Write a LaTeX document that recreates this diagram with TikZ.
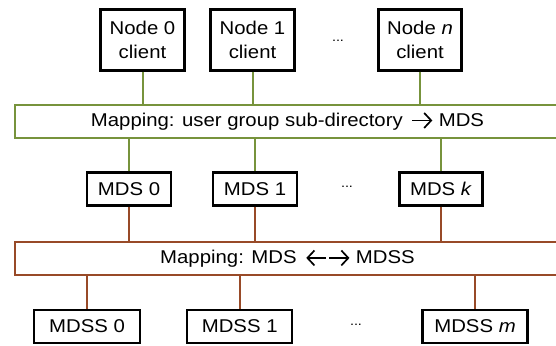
\documentclass[tikz,border=0pt]{standalone}
\usepackage{fontspec}
\setmainfont[FakeStretch=1.1]{Liberation Sans}
\usetikzlibrary{arrows.meta}
\definecolor{mapgreen}{RGB}{119,147,60}
\definecolor{mapbrown}{RGB}{152,74,40}
% open-headed text arrows
\tikzset{textarrow/.style={line width=1.7pt,line cap=butt}}
\newcommand{\rarr}{\tikz[baseline=-5.6pt]\draw[textarrow,-{Straight Barb[length=7pt,width=15pt,line width=1.7pt]}] (0pt,0pt) -- (20pt,0pt);}
\newcommand{\larr}{\tikz[baseline=-5.6pt]\draw[textarrow,{Straight Barb[length=7pt,width=15pt,line width=1.7pt]}-] (0pt,0pt) -- (20pt,0pt);}
\begin{document}
\begin{tikzpicture}[x=1pt,y=-1pt,
  box/.style={draw=black,line width=2.2pt,fill=white,inner sep=0pt,align=center,
    font=\fontsize{18.5}{24.5}\selectfont},
  bar/.style={draw=#1,line width=2pt,fill=white,inner sep=0pt,minimum height=33pt,
    minimum width=545pt,font=\fontsize{18.5}{22}\selectfont},
  link/.style={draw=#1,line width=2pt},
  gap/.style={inner sep=0pt,font=\fontsize{13}{13}\selectfont}]
\useasboundingbox (0,0) rectangle (556,345);
\clip (0,0) rectangle (556,345);

% client nodes
\node[box,minimum width=84pt,minimum height=61pt] (c0) at (142.5,40) {Node 0\\client};
\node[box,minimum width=84pt,minimum height=61pt] (c1) at (252.5,40) {Node 1\\client};
\node[box,minimum width=83pt,minimum height=61pt] (cn) at (420,40) {Node \textit{n}\\client};
\node[gap] (cdots) at (338,41) {...};

% first mapping layer
\node[bar=mapgreen] (m1) at (287.5,121) {Mapping: user group sub-directory \,\rarr\ MDS};

% metadata servers
\node[box,minimum width=84pt,minimum height=33pt] (s0) at (129,189) {MDS 0};
\node[box,minimum width=84pt,minimum height=33pt] (s1) at (255,189) {MDS 1};
\node[box,minimum width=83pt,minimum height=33pt] (sk) at (441,189) {MDS \textit{k}};
\node[gap] (sdots) at (347,187) {...};

% second mapping layer
\node[bar=mapbrown] (m2) at (287.5,258.5) {Mapping: MDS \,\larr\kern1.5pt\rarr\ MDSS};

% metadata storage servers
\node[box,minimum width=106pt,minimum height=33pt] (t0) at (87,326.5) {MDSS 0};
\node[box,minimum width=105pt,minimum height=33pt] (t1) at (239.7,326.5) {MDSS 1};
\node[box,minimum width=105pt,minimum height=33pt] (tm) at (475,326.5) {MDSS \textit{m}};
\node[gap] (tdots) at (356,325) {...};

% connectors
\draw[link=mapgreen] (c0.south) -- (c0.south |- m1.north);
\draw[link=mapgreen] (c1.south) -- (c1.south |- m1.north);
\draw[link=mapgreen] (cn.south) -- (cn.south |- m1.north);
\draw[link=mapgreen] (s0.north) -- (s0.north |- m1.south);
\draw[link=mapgreen] (s1.north) -- (s1.north |- m1.south);
\draw[link=mapgreen] (sk.north) -- (sk.north |- m1.south);
\draw[link=mapbrown] (s0.south) -- (s0.south |- m2.north);
\draw[link=mapbrown] (s1.south) -- (s1.south |- m2.north);
\draw[link=mapbrown] (sk.south) -- (sk.south |- m2.north);
\draw[link=mapbrown] (t0.north) -- (t0.north |- m2.south);
\draw[link=mapbrown] (t1.north) -- (t1.north |- m2.south);
\draw[link=mapbrown] (tm.north) -- (tm.north |- m2.south);
\end{tikzpicture}
\end{document}
